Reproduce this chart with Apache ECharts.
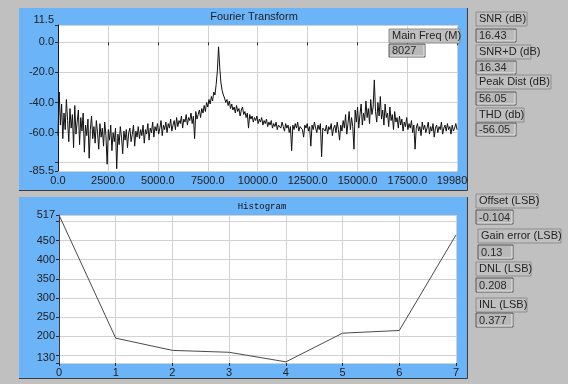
<!DOCTYPE html>
<html>
<head>
<meta charset="utf-8">
<script src="https://cdn.jsdelivr.net/npm/echarts@6/dist/echarts.min.js"></script>
<style>
html,body{margin:0;padding:0;background:#c0c0c0;}
#c{width:568px;height:384px;}
</style>
</head>
<body>
<div id="c"></div>
<script>
// ---- Fourier transform data (dB), one value every fftStep Hz ----
const fftStep = 60;
const fftDb = [
 -62,-33,-55,-41,-64,-47,-58,-38,-52,-66,
 -44,-57,-48,-70,-42,-61,-53,-45,-68,-50,
 -59,-47,-73,-55,-62,-51,-77,-58,-49,-64,
 -56,-67,-52,-60,-71,-54,-63,-57,-69,-53,
 -62,-81,-58,-65,-55,-72,-60,-66,-57,-84,
 -61,-68,-56,-63,-74,-59,-65,-58,-70,-60,
 -57,-66,-61,-55,-69,-59,-63,-56,-64,-58,
 -62,-55,-67,-58,-61,-54,-65,-57,-60,-53,
 -63,-56,-59,-54,-61,-57,-52,-62,-55,-58,
 -53,-60,-54,-57,-51,-59,-55,-52,-58,-50,
 -56,-52,-54,-49,-57,-51,-53,-48,-55,-50,
 -52,-47,-54,-49,-64,-46,-51,-48,-45,-50,
 -44,-47,-42,-46,-40,-43,-38,-41,-36,-39,
 -33,-35,-28,-19,-3,-17,
 -27,-32,-35,-37,-40,-38,-42,-39,-44,-41,
 -45,-43,-47,-42,-46,-44,-49,-45,-43,-48,
 -46,-50,-47,-57,-48,-51,-49,-53,-50,-52,
 -49,-54,-51,-53,-50,-55,-52,-54,-51,-56,
 -53,-55,-52,-57,-54,-56,-53,-58,-55,-54,
 -57,-53,-56,-59,-54,-57,-55,-60,-56,-72,
 -55,-58,-54,-57,-53,-59,-56,-55,-58,-63,
 -55,-57,-54,-59,-56,-69,-55,-58,-53,-57,
 -60,-55,-58,-54,-76,-57,-56,-59,-55,-61,
 -56,-58,-54,-62,-57,-55,-60,-53,-58,-65,
 -55,-59,-52,-57,-48,-61,-54,-46,-58,-50,
 -56,-71,-45,-53,-43,-57,-48,-41,-55,-47,
 -52,-39,-50,-44,-54,-38,-48,-43,-25,-46,
 -53,-40,-49,-36,-51,-45,-55,-41,-50,-47,
 -56,-43,-52,-48,-58,-46,-53,-50,-57,-49,
 -55,-51,-59,-53,-56,-50,-58,-54,-57,-52,
 -60,-55,-71,-57,-54,-59,-56,-62,-53,-58,
 -55,-60,-57,-53,-61,-56,-59,-54,-63,-57,
 -55,-60,-56,-58,-53,-61,-57,-55,-59,-54,
 -58,-56,-61,-55,-59,-57,-54,-58
];
const freqTicks = [0, 2500, 5000, 7500, 10000, 12500, 15000, 17500, 19980];
const dbLabels = [11.5, 0, -20, -40, -60, -85.5];
const dbTicks = [11.5, 0, -20, -40, -60, -80, -85.5];

// ---- Histogram data ----
const histBins = [0, 1, 2, 3, 4, 5, 6, 7];
const histCounts = [517, 195, 163, 158, 133, 208, 215, 465];
const countLabels = [517, 450, 400, 350, 300, 250, 200, 130];
const countTicks = [517, 500, 450, 400, 350, 300, 250, 200, 150, 130];

// ---- Indicators ----
const mainFreq = {label: 'Main Freq (M)', value: '8027'};
const topIndicators = [
  ['SNR (dB)', '16.43'],
  ['SNR+D (dB)', '16.34'],
  ['Peak Dist (dB)', '56.05'],
  ['THD (db)', '-56.05']
];
const bottomIndicators = [
  ['Offset (LSB)', '-0.104'],
  ['Gain error (LSB)', '0.13'],
  ['DNL (LSB)', '0.208'],
  ['INL (LSB)', '0.377']
];

const fftData = fftDb.map((v, i) => [Math.min(i * fftStep, 19980), v]);
const histData = histBins.map((b, i) => [b, histCounts[i]]);

const FONT = 'Liberation Sans, Arial, sans-serif';
const BLUE = '#6cb4f8';
const TXT = '#1e1e1e';

function labelBox(x, y, w, h, text) {
  return [
    {type: 'rect', z: 50, shape: {x: x, y: y, width: w, height: h},
     style: {fill: '#c0c0c0', stroke: '#8e8e8e', lineWidth: 1}},
    {type: 'text', z: 51, x: x + 3, y: y + h / 2,
     style: {text: text, fill: TXT, font: '11px ' + FONT, textVerticalAlign: 'middle'}}
  ];
}
function valueBox(x, y, w, h, text) {
  return [
    {type: 'rect', z: 50, shape: {x: x, y: y, width: w, height: h},
     style: {fill: '#b9b9b9', stroke: '#5a5a5a', lineWidth: 1}},
    {type: 'polyline', z: 51, shape: {points: [[x + 1, y + h - 1], [x + w - 1, y + h - 1], [x + w - 1, y + 1]]},
     style: {stroke: '#e6e6e6', lineWidth: 1, fill: null}},
    {type: 'text', z: 52, x: x + 3, y: y + h / 2 + 0.5,
     style: {text: text, fill: '#2a2a2a', font: '11px ' + FONT, textVerticalAlign: 'middle'}}
  ];
}

const graphics = [
  // panels
  {type: 'rect', z: -10, shape: {x: 19, y: 8, width: 448, height: 182}, style: {fill: BLUE}},
  {type: 'polyline', z: -9, shape: {points: [[19, 190.5], [467.5, 190.5], [467.5, 8]]}, style: {stroke: '#3c3c3c', lineWidth: 1, fill: null}},
  {type: 'rect', z: -10, shape: {x: 19, y: 197, width: 448, height: 181}, style: {fill: BLUE}},
  {type: 'polyline', z: -9, shape: {points: [[19, 378.5], [467.5, 378.5], [467.5, 197]]}, style: {stroke: '#3c3c3c', lineWidth: 1, fill: null}},
  // titles
  {type: 'text', z: 20, x: 254, y: 17, style: {text: 'Fourier Transform', fill: TXT, font: '11px ' + FONT, textAlign: 'center', textVerticalAlign: 'middle'}},
  {type: 'text', z: 20, x: 262, y: 207, style: {text: 'Histogram', fill: '#111', font: '9px Liberation Mono, DejaVu Sans Mono, monospace', textAlign: 'center', textVerticalAlign: 'middle'}}
];
graphics.push(...labelBox(389, 29, 71, 14, mainFreq.label));
graphics.push(...valueBox(389, 44, 36, 13, mainFreq.value));

const topLayout = [
  {ly: 12, lw: 51, vy: 29, vw: 40},
  {ly: 45, lw: 55, vy: 61, vw: 40},
  {ly: 75, lw: 75, vy: 92, vw: 40},
  {ly: 108, lw: 48, vy: 123, vw: 40}
];
topIndicators.forEach((it, i) => {
  const L = topLayout[i];
  graphics.push(...labelBox(476, L.ly, L.lw, 14, it[0]));
  graphics.push(...valueBox(476, L.vy, L.vw, 13, it[1]));
});
const botLayout = [
  {lx: 476, ly: 194, lw: 62, vx: 476, vy: 210, vw: 37},
  {lx: 478, ly: 229, lw: 83, vx: 478, vy: 245, vw: 35},
  {lx: 476, ly: 262, lw: 55, vx: 476, vy: 278, vw: 37},
  {lx: 476, ly: 298, lw: 51, vx: 476, vy: 313, vw: 37}
];
bottomIndicators.forEach((it, i) => {
  const L = botLayout[i];
  graphics.push(...labelBox(L.lx, L.ly, L.lw, 14, it[0]));
  graphics.push(...valueBox(L.vx, L.vy, L.vw, 14, it[1]));
});

const axisLabelBase = {color: TXT, fontSize: 11, fontFamily: FONT};
const tickStyle = {color: '#2a2a2a', width: 1};
const gridLine = {show: true, lineStyle: {color: '#d2d2d2', width: 1}};

const option = {
  backgroundColor: '#c0c0c0',
  animation: false,
  graphic: {elements: graphics},
  grid: [
    {left: 58, top: 25, width: 399, height: 146, show: true, backgroundColor: '#ffffff', borderWidth: 0},
    {left: 59, top: 215, width: 397, height: 148, show: true, backgroundColor: '#ffffff', borderWidth: 0}
  ],
  xAxis: [
    {type: 'value', gridIndex: 0, min: 0, max: 19980,
     axisLine: {show: false},
     axisTick: {show: true, length: 3, lineStyle: tickStyle, customValues: freqTicks},
     axisLabel: Object.assign({}, axisLabelBase, {margin: 4, customValues: freqTicks,
       formatter: v => (v === 19980 ? '{m|19980}' : v.toFixed(1)),
       rich: {m: {fontSize: 11, fontFamily: FONT, color: TXT, padding: [0, 10, 0, 0]}}}),
     splitLine: gridLine},
    {type: 'value', gridIndex: 1, min: 0, max: 7, interval: 1,
     axisLine: {show: false},
     axisTick: {show: true, length: 3, lineStyle: tickStyle},
     axisLabel: Object.assign({}, axisLabelBase, {margin: 4}),
     splitLine: gridLine}
  ],
  yAxis: [
    {type: 'value', gridIndex: 0, min: -85.5, max: 11.5,
     axisLine: {show: true, lineStyle: {color: '#1a1a1a', width: 1}},
     axisTick: {show: true, length: 3, lineStyle: tickStyle, customValues: dbTicks},
     axisLabel: Object.assign({}, axisLabelBase, {margin: 4, customValues: dbLabels,
       verticalAlignMinLabel: 'bottom', formatter: v => v.toFixed(1)}),
     splitLine: gridLine},
    {type: 'value', gridIndex: 1, min: 130, max: 517,
     axisLine: {show: true, lineStyle: {color: '#3a3a3a', width: 1}},
     axisTick: {show: true, length: 3, lineStyle: tickStyle, customValues: countTicks},
     axisLabel: Object.assign({}, axisLabelBase, {margin: 4, customValues: countLabels,
       verticalAlignMaxLabel: 'bottom'}),
     splitLine: gridLine}
  ],
  series: [
    {type: 'line', xAxisIndex: 0, yAxisIndex: 0, data: fftData, symbol: 'none',
     lineStyle: {color: '#111111', width: 1}, z: 5},
    {type: 'line', xAxisIndex: 1, yAxisIndex: 1, data: histData, symbol: 'none',
     lineStyle: {color: '#4a4a4a', width: 1}, z: 5}
  ]
};
const chart = echarts.init(document.getElementById('c'), null, {renderer: 'canvas'});
chart.setOption(option);
</script>
</body>
</html>
